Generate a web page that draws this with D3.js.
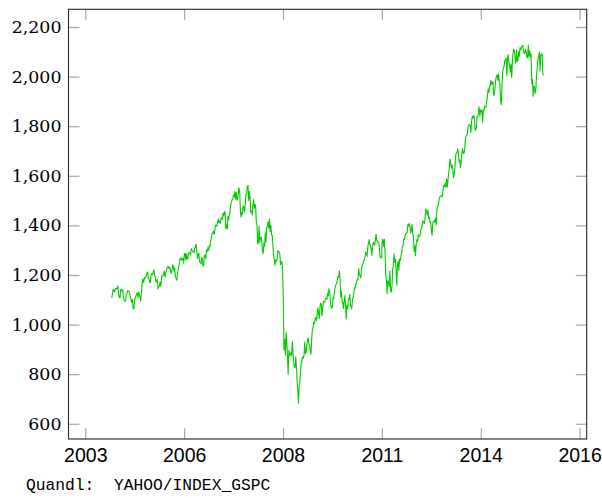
<!DOCTYPE html>
<html>
<head>
<meta charset="utf-8">
<script src="https://cdn.jsdelivr.net/npm/d3@7"></script>
<style>
  html, body { margin: 0; padding: 0; background: #fff; }
  svg { display: block; }
</style>
</head>
<body>
<div id="chart"></div>
<script>
// ---- Data: S&P 500 weekly closes (YAHOO/INDEX_GSPC) ----
const yearStarts = ["2004-01-02","2005-01-07","2006-01-06","2007-01-05","2008-01-04","2009-01-02",
                    "2010-01-08","2011-01-07","2012-01-06","2013-01-04","2014-01-03","2015-01-02"];
const close2004 = [1108,1122,1140,1141,1131,1142,1146,1145,1145,1156,1121,1110,1108,1141,1139,1134,1141,1107,1099,1095,1094,1121,1123,1137,1135,1135,1126,1112,1101,1089,1102,1064,1064,1099,1107,1114,1124,1128,1110,1131,1122,1109,1095,1130,1167,1185,1170,1182,1191,1189,1194,1210,1212];
const close2005 = [1186,1184,1168,1171,1204,1206,1201,1211,1222,1200,1190,1172,1173,1182,1143,1152,1157,1172,1155,1190,1199,1197,1201,1217,1191,1211,1212,1228,1234,1234,1226,1231,1219,1205,1218,1241,1237,1215,1229,1196,1187,1179,1199,1220,1235,1248,1268,1265,1259,1268,1268,1248];
const close2006 = [1285,1288,1261,1284,1264,1267,1288,1290,1287,1281,1307,1302,1295,1295,1289,1311,1311,1325,1291,1267,1281,1288,1253,1251,1245,1270,1265,1236,1240,1279,1279,1266,1302,1295,1311,1299,1319,1314,1336,1350,1366,1369,1377,1364,1380,1401,1400,1397,1409,1427,1410,1418];
const close2007 = [1409,1431,1431,1423,1449,1438,1456,1451,1387,1402,1386,1437,1421,1443,1452,1484,1494,1505,1505,1522,1515,1536,1507,1533,1503,1503,1530,1552,1534,1459,1433,1453,1445,1479,1474,1454,1484,1525,1527,1557,1561,1501,1536,1510,1453,1458,1441,1481,1504,1468,1484,1478];
const close2008 = [1411,1401,1325,1331,1396,1332,1349,1353,1331,1294,1288,1330,1316,1370,1333,1390,1398,1414,1389,1426,1375,1400,1361,1360,1318,1278,1262,1240,1261,1257,1260,1296,1298,1292,1283,1242,1252,1255,1213,1099,899,940,877,968,930,873,800,896,876,879,887,873];
const close2009 = [932,890,850,832,826,869,827,770,735,683,757,768,816,843,857,870,866,877,930,883,887,919,940,946,921,918,896,880,941,979,987,1010,1005,1026,1029,1016,1042,1068,1044,1025,1071,1087,1080,1036,1069,1093,1091,1091,1106,1106,1102,1127,1115];
const close2010 = [1145,1136,1092,1074,1066,1075,1109,1105,1139,1150,1160,1167,1179,1194,1192,1217,1187,1111,1136,1088,1089,1065,1092,1117,1076,1023,1078,1065,1103,1102,1122,1079,1071,1065,1105,1110,1126,1149,1147,1166,1176,1183,1183,1225,1200,1199,1189,1225,1240,1244,1257,1258];
const close2011 = [1272,1293,1283,1276,1311,1329,1343,1320,1321,1304,1279,1314,1332,1329,1320,1338,1364,1340,1338,1333,1331,1300,1271,1271,1268,1340,1344,1316,1345,1292,1199,1179,1124,1177,1174,1154,1216,1136,1131,1155,1224,1238,1285,1253,1263,1216,1159,1244,1255,1219,1265,1258];
const close2012 = [1278,1289,1315,1316,1345,1343,1362,1366,1370,1371,1404,1397,1408,1398,1370,1378,1403,1369,1353,1295,1318,1278,1325,1343,1335,1362,1355,1357,1363,1386,1391,1406,1418,1411,1407,1438,1466,1460,1441,1461,1428,1433,1412,1414,1380,1360,1409,1416,1418,1413,1430,1402];
const close2013 = [1466,1472,1486,1503,1513,1518,1520,1516,1518,1551,1561,1556,1569,1553,1588,1555,1582,1614,1633,1667,1650,1631,1643,1626,1592,1606,1632,1680,1692,1692,1710,1691,1656,1664,1633,1655,1688,1710,1692,1690,1703,1745,1759,1762,1771,1798,1805,1806,1805,1775,1818,1841];
const close2014 = [1832,1843,1839,1790,1783,1797,1838,1836,1859,1878,1841,1866,1857,1865,1816,1864,1863,1881,1878,1878,1900,1924,1950,1936,1963,1961,1985,1968,1978,1978,1925,1931,1955,1988,2003,2007,1985,2011,1982,1968,1906,1887,1965,2018,2032,2040,2064,2068,2075,2003,2071,2089];
const close2015 = [2058,2045,2019,2051,1995,2055,2097,2110,2105,2071,2053,2108,2061,2067,2102,2081,2117,2108,2116,2123,2126,2107,2092,2094,2110,2102,2077,2077,2127,2080,2104,2078,2092,1971,1989,1921,1962,1958,1932,1951,2015,2033,2075,2079,2100,2023,2089,2090,2092,2012,2005];
const yearlyCloses = [close2004,close2005,close2006,close2007,close2008,close2009,
                      close2010,close2011,close2012,close2013,close2014,close2015];

const xTickDates  = ["2003-04-10","2006-01-04","2008-09-30","2011-06-27","2014-03-23","2016-12-17"];
const xTickLabels = ["2003","2006","2008","2011","2014","2016"];
const yTickValues = [600,800,1000,1200,1400,1600,1800,2000,2200];
const sourceNote  = "Quandl:  YAHOO/INDEX_GSPC";

// ---- Build series ----
const parse = d3.utcParse("%Y-%m-%d");
const series = [];
yearlyCloses.forEach((vals, k) => {
  const start = parse(yearStarts[k]);
  vals.forEach((v, i) => series.push({date: d3.utcDay.offset(start, 7 * i), value: v}));
});

// ---- Layout ----
const W = 602, H = 498;
const L = 68.5, R = 586.7, T = 9.3, B = 439;

const xExt = d3.extent(series, d => d.date);
const xPad = (xExt[1] - xExt[0]) * 0.1;
const x = d3.scaleUtc()
  .domain([new Date(+xExt[0] - xPad), new Date(+xExt[1] + xPad)])
  .range([L, R]);

const yExt = d3.extent(series, d => d.value);
const yPad = (yExt[1] - yExt[0]) * 0.1;
const y = d3.scaleLinear()
  .domain([yExt[0] - yPad, yExt[1] + yPad])
  .range([B, T]);

const svg = d3.select("#chart").append("svg")
  .attr("width", W).attr("height", H)
  .attr("viewBox", `0 0 ${W} ${H}`);

const tickLen = 11;
const tickColor = "#a8a8a8";
const tickDates = xTickDates.map(parse);

// bottom axis with labels
const gB = svg.append("g").attr("transform", `translate(0,${B})`)
  .call(d3.axisBottom(x).tickValues(tickDates).tickSize(-tickLen).tickPadding(9.6)
        .tickFormat((d, i) => xTickLabels[i]));
// top axis ticks only
const gT = svg.append("g").attr("transform", `translate(0,${T})`)
  .call(d3.axisTop(x).tickValues(tickDates).tickSize(-tickLen).tickFormat(""));
// left axis with labels
const gL = svg.append("g").attr("transform", `translate(${L},0)`)
  .call(d3.axisLeft(y).tickValues(yTickValues).tickSize(-tickLen).tickPadding(7)
        .tickFormat(d3.format(",")));
// right axis ticks only
const gR = svg.append("g").attr("transform", `translate(${R},0)`)
  .call(d3.axisRight(y).tickValues(yTickValues).tickSize(-tickLen).tickFormat(""));

[gB, gT, gL, gR].forEach(g => {
  g.select(".domain").remove();
  g.selectAll(".tick line").attr("stroke", tickColor).attr("stroke-width", 1.2);
});
gB.selectAll(".tick text")
  .attr("font-family", "'Liberation Sans', Arial, sans-serif")
  .attr("font-size", 19.5).attr("fill", "#000");
gL.selectAll(".tick text")
  .attr("font-family", "'DejaVu Serif', serif")
  .attr("font-size", 17.4).attr("fill", "#000");

// data line
svg.append("path")
  .datum(series)
  .attr("fill", "none")
  .attr("stroke", "#00cc00")
  .attr("stroke-width", 1.1)
  .attr("stroke-linejoin", "round")
  .attr("d", d3.line().x(d => x(d.date)).y(d => y(d.value)));

// frame
svg.append("rect")
  .attr("x", L).attr("y", T).attr("width", R - L).attr("height", B - T)
  .attr("fill", "none").attr("stroke", "#262626").attr("stroke-width", 1.1);

// source note
svg.append("text")
  .attr("x", 26).attr("y", 490)
  .attr("font-family", "'Liberation Mono', 'DejaVu Sans Mono', monospace")
  .attr("font-size", 16.3)
  .style("white-space", "pre")
  .attr("fill", "#000")
  .text(sourceNote);
</script>
</body>
</html>
